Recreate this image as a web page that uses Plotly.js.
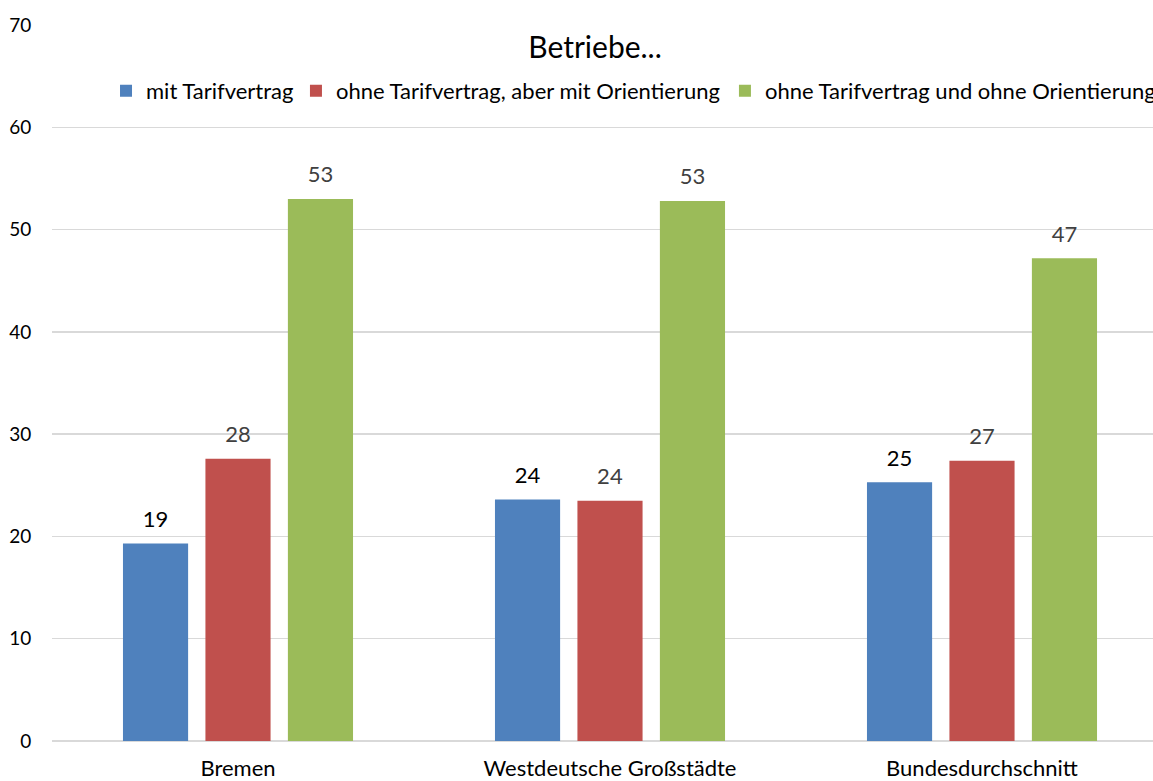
<!DOCTYPE html>
<html>
<head>
<meta charset="utf-8">
<script src="https://cdn.plot.ly/plotly-3.0.1.min.js"></script>
<style>
html,body{margin:0;padding:0;overflow:hidden;background:#fff;}
#chart{width:1200px;height:781px;}
</style>
</head>
<body>
<div id="chart"></div>
<script>
var categories = ["Bremen", "Westdeutsche Großstädte", "Bundesdurchschnitt"];
var seriesNames = ["mit Tarifvertrag", "ohne Tarifvertrag, aber mit Orientierung", "ohne Tarifvertrag und ohne Orientierung"];
var mitTarif = [19.3, 23.6, 25.3];
var ohneMitOrient = [27.6, 23.5, 27.4];
var ohneOhneOrient = [53.0, 52.8, 47.2];
var yTicks = [0, 10, 20, 30, 40, 50, 60, 70];
var titleText = "Betriebe...";

var colors = ["#4F81BD", "#C0504D", "#9BBB59"];
var labelColors = ["#000000", "#404040", "#404040"];
var series = [mitTarif, ohneMitOrient, ohneOhneOrient];
var legendIds = ["legend", "legend2", "legend3"];
var legendX = [0.0484, 0.2186, 0.6030];
var FONT = "Lato, 'Open Sans', sans-serif";

var traces = series.map(function(vals, i){
  return {
    type: "bar",
    name: seriesNames[i],
    legend: legendIds[i],
    x: categories,
    y: vals,
    marker: {color: colors[i]},
    texttemplate: "<span style='font-size:22px'>%{y:.0f}</span><br> ",
    textposition: "outside",
    cliponaxis: false,
    constraintext: "none",
    textfont: {family: FONT, size: 9, color: labelColors[i]},
    hoverinfo: "skip"
  };
});

var layout = {
  width: 1200,
  height: 781,
  margin: {l: 52, r: 32, t: 25, b: 40},
  paper_bgcolor: "#fff",
  plot_bgcolor: "#fff",
  barmode: "group",
  bargap: 0.335,
  bargroupgap: 0.21,
  title: {text: titleText, font: {family: FONT, size: 30, color: "#000"}, x: 0.4866, xanchor: "center", xref: "paper", y: 1 - 47/781, yanchor: "middle", yref: "container"},
  showlegend: true,
  xaxis: {
    tickfont: {family: FONT, size: 22, color: "#000"},
    showgrid: false, zeroline: false, showline: false,
    ticks: "outside", ticklen: 8, tickcolor: "rgba(0,0,0,0)"
  },
  yaxis: {
    range: [0, 70],
    tickvals: yTicks,
    ticktext: yTicks.map(String),
    tickfont: {family: FONT, size: 19, color: "#000"},
    showgrid: true, gridcolor: "#D9D9D9", gridwidth: 1.5,
    zeroline: true, zerolinecolor: "#D9D9D9", zerolinewidth: 1.5,
    showline: false, ticks: "outside", ticklen: 16, tickcolor: "rgba(0,0,0,0)"
  }
};
legendIds.forEach(function(id, i){
  layout[id] = {orientation: "h", x: legendX[i], xanchor: "left", y: 0.908, yanchor: "middle",
    font: {family: FONT, size: 22, color: "#000"}, bgcolor: "rgba(0,0,0,0)", itemwidth: 30};
});

Plotly.newPlot("chart", traces, layout, {displayModeBar: false, staticPlot: true});
</script>
</body>
</html>
